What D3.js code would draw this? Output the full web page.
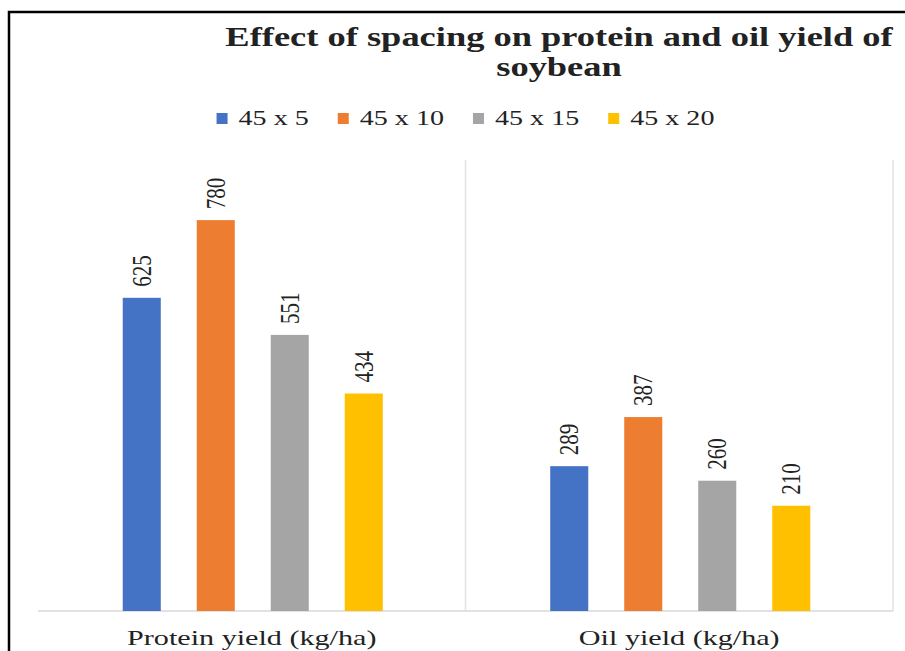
<!DOCTYPE html>
<html lang="en">
<head>
    <meta charset="UTF-8">
    <title>Effect of spacing on protein and oil yield of soybean</title>
    <style>
        body, html {
            margin: 0;
            padding: 0;
            background-color: #fff;
        }
        svg text {
            font-family: "Liberation Serif", "Times New Roman", serif;
            fill: #222;
        }
    </style>
</head>
<body>
    <div id="chart"></div>

    <script src="https://d3js.org/d3.v7.min.js"></script>
    <script>
        const categories = ["Protein yield (kg/ha)", "Oil yield (kg/ha)"];
        const series = ["45 x 5", "45 x 10", "45 x 15", "45 x 20"];
        const protein = [625, 780, 551, 434];
        const oil = [289, 387, 260, 210];
        const colors = ["#4472C4", "#ED7D31", "#A5A5A5", "#FFC000"];

        const values = [protein, oil];
        const rows = [];
        categories.forEach((c, i) => {
            series.forEach((s, j) => rows.push({ category: c, series: s, value: values[i][j] }));
        });

        const width = 905, height = 651;
        const sx = 1.37; // the picture is stretched sideways, text too

        const svg = d3.select("#chart")
            .append("svg")
            .attr("width", width)
            .attr("height", height);

        // black frame round the chart
        svg.append("path")
            .attr("d", "M9,660 V12 H920")
            .attr("fill", "none")
            .attr("stroke", "#000")
            .attr("stroke-width", 2.5);

        const x0 = d3.scaleBand()
            .domain(categories)
            .range([38, 893]);

        const x1 = d3.scaleBand()
            .domain(series)
            .range([x0.bandwidth() / 2 - 148, x0.bandwidth() / 2 + 148])
            .paddingInner(0.486)
            .paddingOuter(0.243);

        const y = d3.scaleLinear()
            .domain([0, 900])
            .range([611, 160]);

        const color = d3.scaleOrdinal().domain(series).range(colors);

        // category dividers + base line
        svg.append("g")
            .selectAll("line")
            .data(categories)
            .join("line")
            .attr("x1", d => x0(d) + x0.bandwidth())
            .attr("x2", d => x0(d) + x0.bandwidth())
            .attr("y1", y(900))
            .attr("y2", y(0))
            .attr("stroke", "#e3e3e3")
            .attr("stroke-width", 1.5);

        svg.append("line")
            .attr("x1", x0.range()[0])
            .attr("x2", x0.range()[1])
            .attr("y1", y(0))
            .attr("y2", y(0))
            .attr("stroke", "#d9d9d9")
            .attr("stroke-width", 1.5);

        // bars
        svg.append("g")
            .selectAll("rect")
            .data(rows)
            .join("rect")
            .attr("x", d => x0(d.category) + x1(d.series) + 1)
            .attr("y", d => y(d.value))
            .attr("width", x1.bandwidth())
            .attr("height", d => y(0) - y(d.value))
            .attr("fill", d => color(d.series));

        // value labels, turned on their side
        svg.append("g")
            .selectAll("text")
            .data(rows)
            .join("text")
            .attr("transform", d => `translate(${x0(d.category) + x1(d.series) + x1.bandwidth() / 2 + 1},${y(d.value) - 11}) scale(1.3,1) rotate(-90)`)
            .attr("dy", "0.33em")
            .attr("font-size", "21px")
            .text(d => d.value);

        // category labels
        svg.append("g")
            .selectAll("text")
            .data(categories)
            .join("text")
            .attr("transform", d => `translate(${x0(d) + x0.bandwidth() / 2},645) scale(${sx},1)`)
            .attr("text-anchor", "middle")
            .attr("font-size", "22px")
            .text(d => d);

        // title
        const title = svg.append("text")
            .attr("transform", `translate(559,46) scale(1.35,1)`)
            .attr("text-anchor", "middle")
            .attr("font-size", "27px")
            .attr("font-weight", "bold");
        title.append("tspan").attr("x", 0).attr("y", 0).text("Effect of spacing on protein and oil yield of");
        title.append("tspan").attr("x", 0).attr("y", 30).text("soybean");

        // legend
        const legend = svg.append("g");
        const items = legend.selectAll("g")
            .data(series)
            .join("g");

        items.append("rect")
            .attr("y", 113)
            .attr("width", 11)
            .attr("height", 11)
            .attr("fill", d => color(d));

        items.append("text")
            .attr("transform", `translate(22,125) scale(${sx},1)`)
            .attr("font-size", "20.5px")
            .text(d => d);

        let lx = 0;
        const pos = [];
        items.each(function () {
            pos.push(lx);
            const w = d3.select(this).select("text").node().getComputedTextLength() * sx;
            lx += 22 + w + 29;
        });
        const total = lx - 29;
        const start = (x0.range()[0] + x0.range()[1]) / 2 - total / 2;
        items.attr("transform", (d, i) => `translate(${start + pos[i]},0)`);
    </script>
</body>
</html>
